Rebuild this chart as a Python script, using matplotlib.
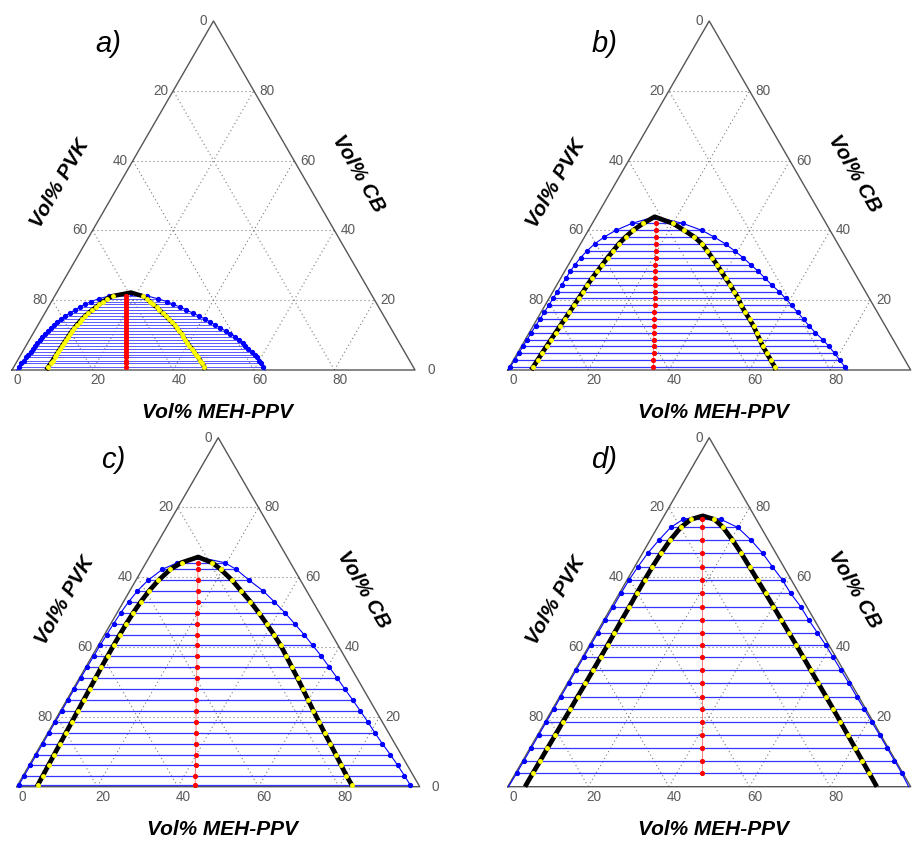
import numpy as np
import matplotlib
matplotlib.use("Agg")
import matplotlib.pyplot as plt

# ---------------- data (compositions in vol%: MEH-PPV and CB) ----------------
panel_labels = ["a)", "b)", "c)", "d)"]
bottom_ticks = [0, 20, 40, 60, 80]                    # Vol% MEH-PPV
left_ticks = [20, 40, 60, 80, 100]                    # CB level of left-side labels
left_tick_labels = ["80", "60", "40", "20", "0"]     # Vol% PVK
right_ticks = [0, 20, 40, 60, 80]                     # Vol% CB
grid_values = [20, 40, 60, 80]

# panel a
a_cb = [1.0, 1.9, 2.7, 3.6, 4.4, 5.3, 6.1, 7.0, 7.8, 8.7, 9.5, 10.4, 11.2, 12.1, 12.9,
        13.8, 14.6, 15.5, 16.3, 17.2, 18.0, 18.8, 19.6, 20.4, 21.2]
a_bin_left = [1.3, 1.4, 1.55, 1.7, 1.8, 1.95, 2.05, 2.2, 2.35, 2.55, 2.75, 3.0, 3.25, 3.55,
              3.9, 4.3, 4.8, 5.5, 6.2, 7.0, 7.8, 8.7, 9.8, 11.3, 13.5]
a_bin_right = [61.8, 60.9, 60.0, 59.0, 58.0, 56.8, 55.6, 54.3, 53.3, 52.0, 50.6, 49.0, 47.4,
               45.6, 44.0, 42.2, 40.5, 38.6, 36.7, 34.7, 32.8, 30.6, 28.7, 26.0, 23.0]
a_spin_left = [8.55, 8.65, 8.7, 8.75, 8.8, 8.85, 8.9, 8.95, 9.0, 9.1, 9.15, 9.2, 9.3, 9.45,
               9.6, 9.85, 10.1, 10.4, 10.8, 11.3, 11.8, 12.3, 12.8, 13.4, 14.4]
a_spin_right = [47.2, 46.2, 45.4, 44.4, 43.5, 42.5, 41.6, 40.5, 39.6, 38.6, 37.8, 36.9, 35.9,
                34.8, 33.9, 32.7, 31.6, 30.4, 29.2, 28.0, 26.9, 25.6, 24.4, 23.3, 21.8]
a_red = [27.9, 27.45, 27.05, 26.6, 26.2, 25.75, 25.35, 24.9, 24.5, 24.05, 23.65, 23.2, 22.8,
         22.35, 21.95, 21.5, 21.1, 20.65, 20.25, 19.8, 19.4, 19.0, 18.6, 18.2, 17.8]
a_crit = (18.4, 22.2)          # (MEH-PPV, CB)
a_spin_base = (8.5, 47.9)      # spinodal MEH-PPV at CB = 0
a_bin_base = (1.2, 62.8)       # binodal MEH-PPV at CB = 0

# panel b
b_cb = [0.9, 2.9, 4.8, 6.8, 8.7, 10.7, 12.6, 14.6, 16.5, 18.5, 20.5, 22.4, 24.4, 26.3, 28.3,
        30.2, 32.2, 34.1, 36.1, 38.1, 40.0, 42.0]
b_bin_left = [0.2, 0.3, 0.35, 0.4, 0.45, 0.5, 0.6, 0.7, 0.8, 0.9, 1.0, 1.1, 1.2, 1.3, 1.4,
              1.6, 2.0, 2.6, 3.5, 4.9, 6.8, 9.8]
b_bin_right = [83.2, 80.9, 78.7, 76.3, 73.8, 71.0, 68.5, 66.1, 63.7, 61.2, 58.7, 56.2, 53.3,
               50.7, 48.0, 45.2, 42.3, 39.3, 36.0, 32.2, 28.2, 22.5]
b_spin_left = [5.9, 6.0, 6.1, 6.25, 6.4, 6.55, 6.7, 6.9, 7.05, 7.2, 7.35, 7.5, 7.6, 7.8, 8.1,
               8.4, 8.7, 9.1, 9.5, 10.2, 11.1, 12.6]
b_spin_right = [65.8, 63.8, 61.9, 59.9, 58.2, 56.4, 54.7, 52.7, 50.7, 48.7, 47.0, 45.0, 43.0,
                40.9, 38.8, 36.8, 34.6, 32.5, 30.2, 27.3, 23.8, 20.0]
b_red = [35.7, 34.7, 33.8, 32.8, 31.9, 30.9, 30.0, 29.1, 28.1, 27.2, 26.2, 25.3, 24.3, 23.4,
         22.5, 21.5, 20.6, 19.7, 18.7, 17.7, 16.8, 15.9]
b_crit = (14.5, 43.9)
b_spin_base = (5.86, 66.5)
b_bin_base = (0.1, 84.2)

# panel c
c_cb = [0.4, 3.2, 6.2, 9.2, 12.3, 15.4, 18.6, 21.8, 24.9, 28.0, 31.1, 34.2, 37.4, 40.5, 43.6,
        46.7, 49.8, 53.0, 56.1, 59.1, 62.3, 64.2]
c_bin_left = [0.3, 0.3, 0.3, 0.3, 0.3, 0.3, 0.3, 0.3, 0.3, 0.3, 0.3, 0.35, 0.4, 0.45, 0.55,
              0.7, 0.9, 1.3, 1.9, 3.0, 5.0, 7.8]
c_bin_right = [97.5, 94.6, 91.4, 88.1, 84.6, 81.2, 77.8, 74.3, 70.9, 67.4, 64.0, 60.5, 56.9,
               53.2, 49.5, 45.6, 41.7, 37.4, 33.1, 28.2, 23.3, 19.5]
c_spin_left = [5.0, 4.9, 4.8, 4.7, 4.6, 4.5, 4.4, 4.3, 4.2, 4.1, 4.0, 3.9, 3.85, 3.8, 3.8,
               3.85, 4.0, 4.3, 4.8, 5.6, 7.0, 8.8]
c_spin_right = [83.0, 80.2, 77.4, 74.6, 71.65, 68.7, 65.7, 62.7, 59.85, 57.0, 54.15, 51.2,
                48.2, 45.25, 42.0, 38.65, 35.2, 31.5, 27.65, 23.95, 19.45, 16.4]
c_red = [44.1, 42.7, 41.3, 39.8, 38.3, 36.8, 35.2, 33.6, 32.1, 30.6, 29.1, 27.6, 26.0, 24.5,
         23.0, 21.45, 19.9, 18.4, 16.85, 15.4, 13.8, 12.9]
c_crit = (12.1, 65.8)
c_spin_base = (5.0, 83.2)
c_bin_base = (0.3, 97.9)

# panel d
d_cb = [3.8, 7.5, 11.0, 14.8, 18.6, 22.2, 25.8, 29.6, 33.4, 37.1, 40.6, 44.1, 47.8, 51.6,
        55.4, 59.2, 63.0, 66.9, 70.7, 74.3, 76.6]
d_bin_left = [0.3, 0.3, 0.3, 0.3, 0.3, 0.3, 0.3, 0.3, 0.3, 0.3, 0.3, 0.35, 0.35, 0.4, 0.4,
              0.5, 0.8, 1.3, 2.2, 3.3, 5.2]
d_bin_right = [95.9, 92.2, 88.7, 84.9, 81.0, 77.4, 73.7, 69.9, 66.0, 62.2, 58.6, 54.8, 50.8,
               46.9, 42.5, 38.6, 34.2, 29.8, 25.0, 19.9, 14.6]
d_spin_left = [4.3, 4.35, 4.35, 4.4, 4.4, 4.45, 4.45, 4.5, 4.5, 4.5, 4.5, 4.45, 4.4, 4.4,
               4.35, 4.35, 4.4, 4.6, 5.0, 5.8, 7.2]
d_spin_right = [87.85, 84.2, 80.75, 77.0, 73.25, 69.7, 66.1, 62.3, 58.5, 54.8, 51.3, 47.75,
                44.0, 40.15, 36.3, 32.4, 28.5, 24.5, 20.4, 16.3, 13.0]
d_red = [46.2, 44.35, 42.6, 40.7, 38.8, 37.0, 35.2, 33.3, 31.4, 29.55, 27.8, 26.05, 24.2,
         22.3, 20.4, 18.5, 16.6, 14.65, 12.75, 10.95, 9.8]
d_crit = (9.6, 77.6)
d_spin_base = (4.3, 91.6)
d_bin_base = (0.2, 99.5)

panels = [
    dict(cb=a_cb, bl=a_bin_left, br=a_bin_right, sl=a_spin_left, sr=a_spin_right,
         red=a_red, crit=a_crit, sbase=a_spin_base, bbase=a_bin_base),
    dict(cb=b_cb, bl=b_bin_left, br=b_bin_right, sl=b_spin_left, sr=b_spin_right,
         red=b_red, crit=b_crit, sbase=b_spin_base, bbase=b_bin_base),
    dict(cb=c_cb, bl=c_bin_left, br=c_bin_right, sl=c_spin_left, sr=c_spin_right,
         red=c_red, crit=c_crit, sbase=c_spin_base, bbase=c_bin_base),
    dict(cb=d_cb, bl=d_bin_left, br=d_bin_right, sl=d_spin_left, sr=d_spin_right,
         red=d_red, crit=d_crit, sbase=d_spin_base, bbase=d_bin_base),
]

# ---------------- helpers ----------------
H3 = np.sqrt(3) / 2


def tern(meh, cb):
    meh = np.asarray(meh, dtype=float)
    cb = np.asarray(cb, dtype=float)
    return meh + cb / 2.0, cb * H3


W, H = 921, 843
fig = plt.figure(figsize=(W / 100, H / 100), dpi=100)
fig.patch.set_facecolor("white")

S = 4.03  # pixels per data unit
origins = [(12, 370), (507.7, 370), (16.7, 786.7), (507.7, 786.7)]  # bottom-left corner, px
show_right_zero = [True, False, True, False]   # the right column's corner "0" is cut off

tick_font = dict(family="Liberation Sans", fontsize=9.8, color="#5a5a5a")
title_font = dict(family="Liberation Sans", fontsize=15, fontweight="bold",
                  fontstyle="italic", color="black")

for i, (p, (x0, y0), lab) in enumerate(zip(panels, origins, panel_labels)):
    pad = 2
    ax = fig.add_axes([(x0 - pad * S) / W, (H - y0 - pad * S) / H,
                       (100 + 2 * pad) * S / W, (86.6 + 2 * pad) * S / H])
    ax.set_xlim(-pad, 100 + pad)
    ax.set_ylim(-pad, 86.6 + pad)
    ax.axis("off")

    # grid
    gkw = dict(color="#7a7a7a", lw=0.8, ls=(0, (1, 2.6)), zorder=1)
    for v in grid_values:
        x, y = tern([0, 100 - v], [v, v]); ax.plot(x, y, **gkw)
        x, y = tern([v, v], [0, 100 - v]); ax.plot(x, y, **gkw)
        x, y = tern([100 - v, 0], [0, 100 - v]); ax.plot(x, y, **gkw)

    # triangle
    x, y = tern([0, 100, 0, 0], [0, 0, 100, 0])
    ax.plot(x, y, color="#555555", lw=1.0, zorder=2)

    cb = np.array(p["cb"])
    dense = i == 0
    # tie lines
    for c, l, r in zip(cb, p["bl"], p["br"]):
        x, y = tern([l, r], [c, c])
        ax.plot(x, y, color="#5a5aff" if dense else "#3535ff",
                lw=0.7 if dense else 0.9, zorder=3)

    # binodal
    cm, cc = p["crit"]
    bm = [p["bbase"][0]] + list(p["bl"]) + [cm] + list(p["br"])[::-1] + [p["bbase"][1]]
    bc = [0] + list(cb) + [cc] + list(cb)[::-1] + [0]
    x, y = tern(bm, bc)
    ax.plot(x, y, color="blue", lw=0.8, zorder=4)
    x, y = tern(list(p["bl"]) + [cm] + list(p["br"]), list(cb) + [cc] + list(cb))
    ax.plot(x, y, ls="none", marker="o", ms=2.8, color="blue", zorder=4)

    # spinodal
    sm = [p["sbase"][0]] + list(p["sl"]) + [cm] + list(p["sr"])[::-1] + [p["sbase"][1]]
    sc = [0] + list(cb) + [cc] + list(cb)[::-1] + [0]
    x, y = tern(sm, sc)
    ax.plot(x, y, color="black", lw=3.2 if dense else 3.4, zorder=5, solid_capstyle="butt")
    x, y = tern(list(p["sl"]) + list(p["sr"]), list(cb) + list(cb))
    ax.plot(x, y, ls="none", marker="o", ms=2.5, mfc="#ffff00", mec="#ffff00", zorder=6)

    # red line
    x, y = tern(p["red"], cb)
    ax.plot(x, y, color="red", lw=0.6, alpha=0.6, zorder=6)
    ax.plot(x, y, ls="none", marker="o", ms=2.7, color="red", zorder=7)

    # tick labels
    for v in bottom_ticks:
        x, y = tern(v, 0)
        ax.text(x + 1.4, y - 2.6, str(v), ha="center", va="center", **tick_font)
    for c, t in zip(left_ticks, left_tick_labels):
        x, y = tern(0, c)
        dx = 1.6 if c == 100 else 1.2
        ax.text(x - dx, y, t, ha="right", va="center", **tick_font)
    for c in right_ticks:
        if c == 0 and not show_right_zero[i]:
            continue
        x, y = tern(100 - c, c)
        dx = 3.0 if c == 0 else 1.5
        ax.text(x + dx, y, str(c), ha="left", va="center", **tick_font)

    # axis titles
    ax.text(12.0, 46.3, "Vol% PVK", rotation=60, ha="center", va="center",
            rotation_mode="anchor", **title_font)
    ax.text(86.0, 48.8, "Vol% CB", rotation=-60, ha="center", va="center",
            rotation_mode="anchor", **title_font)
    ax.text(51.0, -10.5, "Vol% MEH-PPV", ha="center", va="center", **title_font)

    # panel label
    ax.text(24.0, 81.0, lab, ha="center", va="center", family="Liberation Sans",
            fontsize=21, fontstyle="italic", color="black")

fig.savefig("out.png", dpi=100, facecolor="white")
